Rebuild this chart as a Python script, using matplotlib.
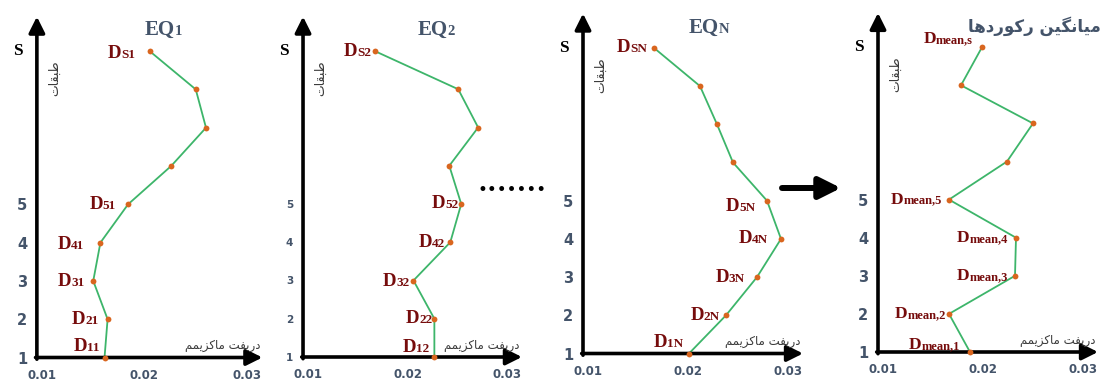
import matplotlib
matplotlib.use("Agg")
import matplotlib.pyplot as plt
from matplotlib.offsetbox import AnnotationBbox, HPacker, TextArea

# ---- data ----
levels = [1, 2, 3, 4, 5, 6, 7, 8, 9]          # storey index, 9 == S (top)
drift_eq1 = [0.0161, 0.0164, 0.0150, 0.0157, 0.0184, 0.0226, 0.0260, 0.0250, 0.0205]
drift_eq2 = [0.0227, 0.0227, 0.0206, 0.0243, 0.0254, 0.0242, 0.0271, 0.0251, 0.0167]
drift_eqn = [0.0201, 0.0238, 0.0269, 0.0293, 0.0279, 0.0245, 0.0229, 0.0212, 0.0166]
drift_mean = [0.0187, 0.0166, 0.0232, 0.0233, 0.0166, 0.0224, 0.0250, 0.0178, 0.0199]

labelled_idx = [0, 1, 2, 3, 4, 8]              # points that carry a D label
subs_eq1 = ["11", "21", "31", "41", "51", "S1"]
subs_eq2 = ["12", "22", "32", "42", "52", "S2"]
subs_eqn = ["1N", "2N", "3N", "4N", "5N", "SN"]
subs_mean = ["mean,1", "mean,2", "mean,3", "mean,4", "mean,5", "mean,s"]

story_ticks = [1, 2, 3, 4, 5]
story_labels = ["1", "2", "3", "4", "5"]
top_story = "S"
drift_ticks = [0.01, 0.02, 0.03]
drift_labels = ["0.01", "0.02", "0.03"]
eq_titles = [("EQ", "1"), ("EQ", "2"), ("EQ", "N")]

ylabel_fa = "طبقات"
xlabel_fa = "دریفت ماکزیمم"
mean_title_fa = "میانگین رکوردها"

# ---- minimal persian shaping (matplotlib has no complex text layout) ----
FORMS = {  # isolated, final, initial, medial
    "ا": ("\uFE8D", "\uFE8E", None, None),
    "ب": ("\uFE8F", "\uFE90", "\uFE91", "\uFE92"),
    "ت": ("\uFE95", "\uFE96", "\uFE97", "\uFE98"),
    "د": ("\uFEA9", "\uFEAA", None, None),
    "ر": ("\uFEAD", "\uFEAE", None, None),
    "ز": ("\uFEAF", "\uFEB0", None, None),
    "ط": ("\uFEC1", "\uFEC2", "\uFEC3", "\uFEC4"),
    "ف": ("\uFED1", "\uFED2", "\uFED3", "\uFED4"),
    "ق": ("\uFED5", "\uFED6", "\uFED7", "\uFED8"),
    "ک": ("\uFB8E", "\uFB8F", "\uFB90", "\uFB91"),
    "گ": ("\uFB92", "\uFB93", "\uFB94", "\uFB95"),
    "م": ("\uFEE1", "\uFEE2", "\uFEE3", "\uFEE4"),
    "ن": ("\uFEE5", "\uFEE6", "\uFEE7", "\uFEE8"),
    "ه": ("\uFEE9", "\uFEEA", "\uFEEB", "\uFEEC"),
    "و": ("\uFEED", "\uFEEE", None, None),
    "ی": ("\uFEEF", "\uFEF0", "\uFEF3", "\uFEF4"),
}


def shape(text):
    out = []
    for i, ch in enumerate(text):
        if ch not in FORMS:
            out.append(ch)
            continue
        prev = text[i - 1] if i > 0 else ""
        nxt = text[i + 1] if i + 1 < len(text) else ""
        joins_prev = prev in FORMS and FORMS[prev][2] is not None
        joins_next = nxt in FORMS and FORMS[ch][2] is not None
        iso, fin, ini, med = FORMS[ch]
        if joins_prev and joins_next:
            out.append(med)
        elif joins_prev:
            out.append(fin)
        elif joins_next:
            out.append(ini)
        else:
            out.append(iso)
    return "".join(out)[::-1]


SLATE = "#44546A"
DRED = "#760C0C"
GREEN = "#3DB56A"
ORANGE = "#D9661F"
SERIF = "Liberation Serif"


def rich(main, sub, s_main, s_sub, color):
    kw = dict(fontfamily=SERIF, fontweight="bold", color=color)
    return HPacker(children=[TextArea(main, textprops=dict(fontsize=s_main, **kw)),
                             TextArea(sub, textprops=dict(fontsize=s_sub, **kw))],
                   align="baseline", pad=0, sep=0)


W, H = 1104, 380
fig = plt.figure(figsize=(W / 100, H / 100), dpi=100)

XLIM = (0.0095, 0.0315)
YLIM = (1, 9.9)

# per panel: px of x=0.01, px per 0.01, px (from top) of storey 1, px per storey,
# tick font size, title centre (px from top), label offsets (px)
panels = [
    dict(x0=42, sx=102.5, y1=357.5, sy=38.3, tfs=10.5, drift=drift_eq1, subs=subs_eq1,
         title=eq_titles[0], tpos=(163, 30), main=13.5, sub=9.5,
         offs=[(-5, 11), (-9, 0), (-9, -1), (-16, -2), (-12, 0), (-14, -2)]),
    dict(x0=308, sx=99.5, y1=357, sy=38.25, tfs=7.5, drift=drift_eq2, subs=subs_eq2,
         title=eq_titles[1], tpos=(436, 30), main=13.5, sub=9.5,
         offs=[(-5, 10), (-2, 0), (-4, -1), (-5, 0), (-3, 0), (-3, 0)]),
    dict(x0=588, sx=100, y1=353.5, sy=38.2, tfs=10.5, drift=drift_eqn, subs=subs_eqn,
         title=eq_titles[2], tpos=(709, 28), main=13.5, sub=9.5,
         offs=[(-6, 11), (-6, 0), (-12, 0), (-13, 0), (-12, -6), (-7, 0)]),
    dict(x0=883, sx=100, y1=352, sy=38.1, tfs=10.5, drift=drift_mean, subs=subs_mean,
         title=None, tpos=None, main=12.5, sub=9,
         offs=[(-10, 7), (-3, 0), (-7, 0), (-8, 0), (-7, 0), (-9, 8)]),
]

axes = []
for p in panels:
    sx = p["sx"] / 0.01
    left = p["x0"] - (0.01 - XLIM[0]) * sx
    width = (XLIM[1] - XLIM[0]) * sx
    height = (YLIM[1] - YLIM[0]) * p["sy"]
    bottom = H - p["y1"]
    ax = fig.add_axes([left / W, bottom / H, width / W, height / H])
    axes.append(ax)
    ax.set_xlim(*XLIM)
    ax.set_ylim(*YLIM)
    for s in ax.spines.values():
        s.set_visible(False)
    ax.patch.set_alpha(0)

    # axis arrows
    arrow = dict(arrowstyle="-|>,head_length=0.8,head_width=0.4", lw=2.6,
                 color="black", mutation_scale=12, shrinkA=0, shrinkB=0)
    ax.annotate("", xy=(0, 1), xytext=(0, -0.005), xycoords="axes fraction",
                arrowprops=arrow, annotation_clip=False)
    ax.annotate("", xy=(1, 0), xytext=(-0.006, 0), xycoords="axes fraction",
                arrowprops=arrow, annotation_clip=False)

    ax.set_xticks(drift_ticks, drift_labels)
    ax.set_yticks(story_ticks, story_labels)
    ax.tick_params(length=0)
    ax.tick_params(axis="x", pad=8)
    ax.tick_params(axis="y", pad=7)
    for t in ax.get_xticklabels():
        t.set_fontsize(8.5)
        t.set_fontweight("bold")
        t.set_color(SLATE)
    for t in ax.get_yticklabels():
        t.set_fontsize(p["tfs"])
        t.set_fontweight("bold")
        t.set_color(SLATE)
    ax.annotate(top_story, xy=(0, levels[-1]), xycoords=ax.get_yaxis_transform(),
                xytext=(-14, 0), textcoords="offset pixels", ha="right", va="center",
                fontsize=12.5, fontweight="bold", fontfamily=SERIF, color="black")

    ax.plot(p["drift"], levels, color=GREEN, lw=1.3, zorder=2, clip_on=False)
    ax.plot(p["drift"], levels, "o", color=ORANGE, ms=4.2, mec="none", zorder=3,
            clip_on=False)

    for k, i in enumerate(labelled_idx):
        dx, dy = p["offs"][k]
        ab = AnnotationBbox(rich("D", p["subs"][k], p["main"], p["sub"], DRED),
                            (p["drift"][i], levels[i]), xybox=(dx, dy),
                            boxcoords="offset pixels", box_alignment=(1, 0.5),
                            frameon=False, pad=0, annotation_clip=False)
        ax.add_artist(ab)

    ax.text(0.08, 0.82, shape(ylabel_fa), transform=ax.transAxes, rotation=90,
            ha="center", va="center", fontsize=9, color="#3A3A3A",
            fontfamily="DejaVu Sans")
    ax.text(0.99, 0.035, shape(xlabel_fa), transform=ax.transAxes, ha="right",
            va="center", fontsize=8.5, color="#3A3A3A", fontfamily="DejaVu Sans")

    if p["title"] is not None:
        ab = AnnotationBbox(rich(p["title"][0], p["title"][1], 15, 10.5, SLATE),
                            (p["tpos"][0], H - p["tpos"][1]), xycoords="figure pixels",
                            box_alignment=(0.5, 0.5), frameon=False, pad=0)
        fig.add_artist(ab)

# title of the averaged panel (kept inside the figure, clear of Dmean,s)
fig.text(1101 / W, 1 - 26 / H, shape(mean_title_fa), ha="right", va="center",
         fontsize=12, fontweight="bold", color=SLATE, fontfamily="DejaVu Sans")

# "......" between EQ2 and EQN
fig.text(512 / W, 1 - 190 / H, "\u2022" * 7, ha="center", va="center",
         fontsize=12, color="black", fontfamily="DejaVu Sans")

# arrow towards the mean panel
axes[2].annotate("", xy=(841, H - 188), xytext=(782, H - 188), xycoords="figure pixels",
                 arrowprops=dict(arrowstyle="-|>,head_length=1.0,head_width=0.5",
                                 lw=4.3, color="black", mutation_scale=13,
                                 shrinkA=0, shrinkB=0),
                 annotation_clip=False)

fig.savefig("out.png", dpi=100)
